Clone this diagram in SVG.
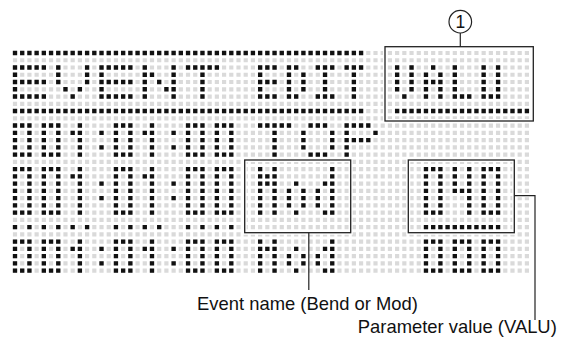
<svg xmlns="http://www.w3.org/2000/svg" width="561" height="343" viewBox="0 0 561 343">
<style>
.lcd-light{fill:none;stroke:#dadada;stroke-width:.58;stroke-dasharray:.58 .42}
.lcd-dark{fill:none;stroke:#111;stroke-width:.6;stroke-dasharray:.6 .4}
.halo{fill:none;stroke:#fff;stroke-width:4}
.box{fill:none;stroke:#222;stroke-width:1.3}
.lead{fill:none;stroke:#222;stroke-width:1.2}
.lbl{font-family:"Liberation Sans",Arial,sans-serif;font-size:18.4px;fill:#111;text-anchor:middle}
</style>
<defs>
<!-- 5x5 font -->
<path id="E5" d="M0 .3h4.6M.3 1v.6M0 2.3h4.6M.3 3v.6M0 4.3h4.6"/>
<path id="V5" d="M.3 0v2.6M4.3 0v2.6M1 3.3h.6M3 3.3h.6M2 4.3h.6"/>
<path id="N5" d="M.3 0v4.6M4.3 0v4.6M1 1.3h.6M2 2.3h.6M3 3.3h.6"/>
<path id="T5" d="M0 .3h4.6M2.3 1v3.6"/>
<path id="O5" d="M1 .3h2.6M.3 1v2.6M4.3 1v2.6M1 4.3h2.6"/>
<path id="P5" d="M0 .3h3.6M.3 1v3.6M4 1.3h.6M1 2.3h2.6"/>
<!-- 3x5 font -->
<path id="E3" d="M0 .3h2.6M.3 1v.6M0 2.3h2.6M.3 3v.6M0 4.3h2.6"/>
<path id="D3" d="M.3 0v4.6M1 .3h.6M2.3 1v2.6M1 4.3h.6"/>
<path id="I3" d="M0 .3h2.6M1.3 1v2.6M0 4.3h2.6"/>
<path id="T3" d="M0 .3h2.6M1.3 1v3.6"/>
<path id="V3" d="M.3 0v3.6M2.3 0v3.6M1 4.3h.6"/>
<path id="A3" d="M1 .3h.6M.3 1v3.6M2.3 1v3.6M1 2.3h.6"/>
<path id="L3" d="M.3 0v3.6M0 4.3h2.6"/>
<path id="U3" d="M.3 0v3.6M2.3 0v3.6M0 4.3h2.6"/>
<path id="Z3" d="M0 .3h2.6M.3 1v2.6M2.3 1v2.6M0 4.3h2.6"/>
<path id="N13" d="M1.3 0v4.6M0 1.3h.6"/>
<path id="C3" d="M.3 1v.6M.3 3v.6"/>
<path id="M3" d="M.3 0v4.6M2.3 0v4.6M1 1.3h.6"/>
<path id="o3" d="M1 1.3h.6M.3 2v1.6M2.3 2v1.6M1 4.3h.6"/>
<path id="d3" d="M2.3 0v4.6M1 1.3h.6M.3 2v1.6M1 4.3h.6"/>
<!-- 3x7 font -->
<path id="Z7" d="M0 .3h2.6M.3 1v4.6M2.3 1v4.6M0 6.3h2.6"/>
<path id="N17" d="M1.3 0v6.6M0 1.3h.6"/>
<path id="C7" d="M.3 2v.6M.3 4v.6"/>
<path id="M7" d="M.3 0v6.6M2.3 0v6.6M1.3 1v1.6"/>
<path id="o7" d="M1 2.3h.6M.3 3v2.6M2.3 3v2.6M1 6.3h.6"/>
<path id="d7" d="M2.3 0v6.6M1 2.3h.6M.3 3v2.6M1 6.3h.6"/>
<path id="F7" d="M.3 0v3.6M2.3 0v6.6M1 3.3h.6"/>
<g id="ts"><use href="#Z3"/><use href="#Z3" x="4"/><use href="#N13" x="8"/><use href="#C3" x="12"/><use href="#Z3" x="14"/><use href="#N13" x="18"/><use href="#C3" x="22"/><use href="#Z3" x="24"/><use href="#Z3" x="28"/></g>
<g id="tb"><use href="#Z7"/><use href="#Z7" x="4"/><use href="#N17" x="8"/><use href="#C7" x="12"/><use href="#Z7" x="14"/><use href="#N17" x="18"/><use href="#C7" x="22"/><use href="#Z7" x="24"/><use href="#Z7" x="28"/></g>
</defs>
<rect width="561" height="343" fill="#fff"/>
<g id="display">
<g id="lcd-grid" class="lcd-light" transform="translate(15 53) scale(7.21 7.255)">
<path d="M-.29 0H71.29M-.29 1H71.29M-.29 2H71.29M-.29 3H71.29M-.29 4H71.29M-.29 5H71.29M-.29 6H71.29M-.29 7H71.29M-.29 8H71.29M-.29 9H71.29M-.29 10H71.29M-.29 11H71.29M-.29 12H71.29M-.29 13H71.29M-.29 14H71.29M-.29 15H71.29M-.29 16H71.29M-.29 17H71.29M-.29 18H71.29M-.29 19H71.29M-.29 20H71.29M-.29 21H71.29M-.29 22H71.29M-.29 23H71.29M-.29 24H71.29M-.29 25H71.29M-.29 26H71.29M-.29 27H71.29M-.29 28H71.29M-.29 29H71.29M-.29 30H71.29"/>
</g>
<g id="lcd-text" class="lcd-dark" transform="translate(15 53) scale(7.21 7.255) translate(-.3 -.3)">
<path d="M0 .3h48.6M0 8.3h48.6M53 8.3h18.6M57 24.3h10.6"/>
<path style="stroke-dasharray:.6 1.4" d="M0 24.3h10.6M14 24.3h6.6M24 24.3h6.6"/>
<g id="line-event-edit">
<use href="#E5" y="2"/><use href="#V5" x="6" y="2"/><use href="#E5" x="12" y="2"/><use href="#N5" x="18" y="2"/><use href="#T5" x="24" y="2"/>
<use href="#E3" x="34" y="2"/><use href="#D3" x="38" y="2"/><use href="#I3" x="42" y="2"/><use href="#T3" x="46" y="2"/>
<use href="#V3" x="53" y="2"/><use href="#A3" x="57" y="2"/><use href="#L3" x="61" y="2"/><use href="#U3" x="65" y="2"/>
</g>
<g id="line-top">
<use href="#ts" y="10"/><use href="#T5" x="34" y="10"/><use href="#O5" x="40" y="10"/><use href="#P5" x="46" y="10"/>
</g>
<g id="line-mod-big">
<use href="#tb" y="16"/><use href="#M7" x="34" y="16"/><use href="#o7" x="38" y="16"/><use href="#d7" x="42" y="16"/>
<use href="#Z7" x="57" y="16"/><use href="#F7" x="61" y="16"/><use href="#Z7" x="65" y="16"/>
</g>
<g id="line-mod-small">
<use href="#ts" y="26"/><use href="#M3" x="34" y="26"/><use href="#o3" x="38" y="26"/><use href="#d3" x="42" y="26"/>
<use href="#Z3" x="57" y="26"/><use href="#Z3" x="61" y="26"/><use href="#Z3" x="65" y="26"/>
</g>
</g>
</g>
<g id="box-valu"><rect class="halo" x="385" y="46.7" width="148.3" height="74.3"/><rect class="box" x="385" y="46.7" width="148.3" height="74.3"/></g>
<g id="box-mod"><rect class="halo" x="244.7" y="160" width="106" height="72.7"/><rect class="box" x="244.7" y="160" width="106" height="72.7"/></g>
<g id="box-040"><rect class="halo" x="408.3" y="160" width="106" height="72.7"/><rect class="box" x="408.3" y="160" width="106" height="72.7"/></g>
<g id="callout-1"><circle class="lead" cx="460.3" cy="21.7" r="11.3"/><text x="460.3" y="28" style="font-family:'Liberation Sans',Arial,sans-serif;font-size:17.5px;fill:#111;text-anchor:middle">1</text></g>
<g id="connectors">
<path class="halo" style="stroke-width:3" d="M516 195.7H533"/>
<path class="lead" d="M460.3 33V46.7"/>
<path class="lead" d="M308.8 232.7V290"/>
<path class="lead" d="M514.3 195.7H535V320"/>
</g>
<g id="label-event"><text class="lbl" x="307.5" y="310">Event name (Bend or Mod)</text></g>
<g id="label-param"><text class="lbl" x="457.3" y="333">Parameter value (VALU)</text></g>
</svg>
